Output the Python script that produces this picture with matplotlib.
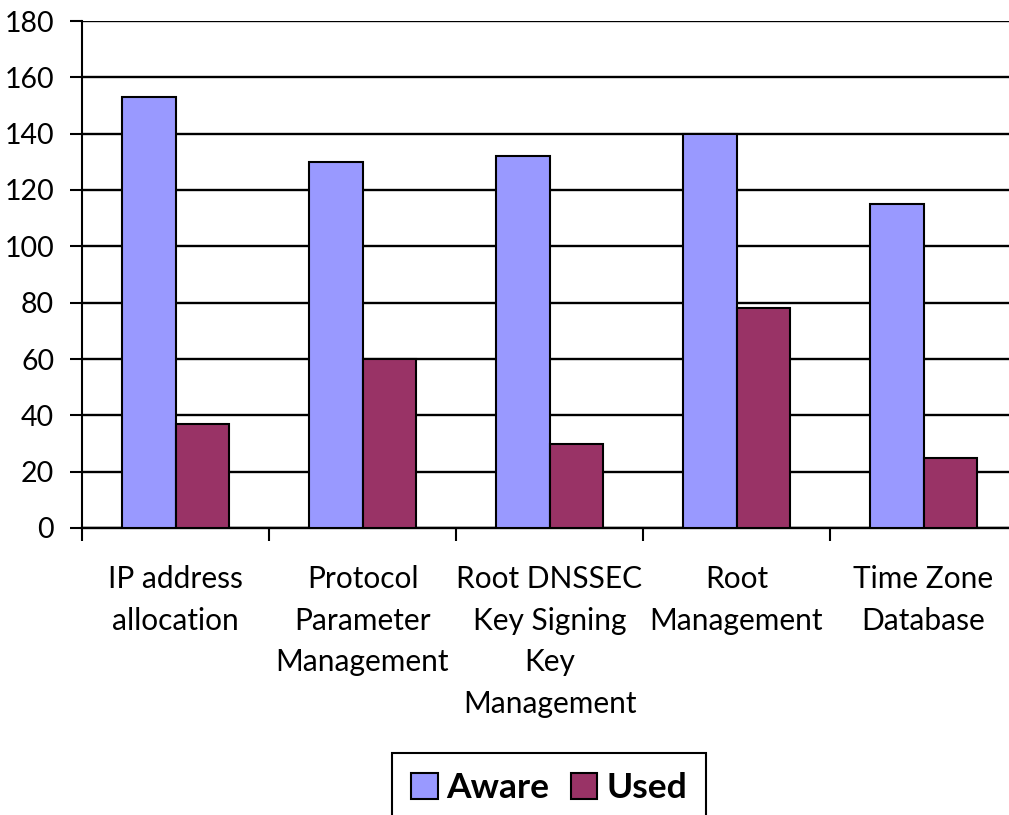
import numpy as np
import matplotlib.pyplot as plt
from matplotlib.ticker import FixedLocator

categories = ['IP address\nallocation', 'Protocol\nParameter\nManagement',
              'Root DNSSEC\nKey Signing\nKey\nManagement', 'Root\nManagement',
              'Time Zone\nDatabase']
aware = [153, 130, 132, 140, 115]
used = [37, 60, 30, 78, 25]

plt.rcParams['font.family'] = ['Lato', 'DejaVu Sans']

fig = plt.figure(figsize=(10.09, 8.15), dpi=100)
ax = fig.add_axes([82 / 1009, 1 - 528 / 815, 935 / 1009, 507 / 815])

x = np.arange(len(categories))
w = 0.288
ax.bar(x - w / 2, aware, w, color='#9999FF', edgecolor='black', linewidth=1.5,
       label='Aware', zorder=3)
ax.bar(x + w / 2, used, w, color='#993366', edgecolor='black', linewidth=1.5,
       label='Used', zorder=3)

ax.set_xlim(-0.5, len(categories) - 0.5)
ax.set_ylim(0, 180)
ax.set_yticks(range(0, 181, 20))
ax.yaxis.grid(True, color='black', linewidth=1.7, zorder=0)
ax.set_axisbelow(True)

ax.set_xticks(x)
ax.set_xticklabels(categories, fontsize=21.5, linespacing=1.58, va='top')
ax.tick_params(axis='x', which='major', length=0, pad=27)
ax.xaxis.set_minor_locator(FixedLocator(np.arange(-0.5, len(categories), 1.0)))
ax.tick_params(axis='x', which='minor', length=9, width=1.5, direction='out')
ax.tick_params(axis='y', labelsize=20.5, length=9, width=1.5, pad=11)

for s in ['top', 'right']:
    ax.spines[s].set_visible(False)
ax.spines['left'].set_linewidth(1.5)
ax.spines['bottom'].set_linewidth(1.7)

fig.legend(loc='upper center', bbox_to_anchor=(549 / 1009, 1 - 753 / 815),
           ncol=2, frameon=True, fancybox=False, edgecolor='black',
           prop={'size': 25.5, 'weight': 'bold'}, handlelength=0.75,
           handleheight=0.75, handletextpad=0.25, columnspacing=0.6,
           borderpad=0.55, borderaxespad=0, framealpha=1
           ).get_frame().set_linewidth(1.5)

fig.savefig('out.png', dpi=100)
